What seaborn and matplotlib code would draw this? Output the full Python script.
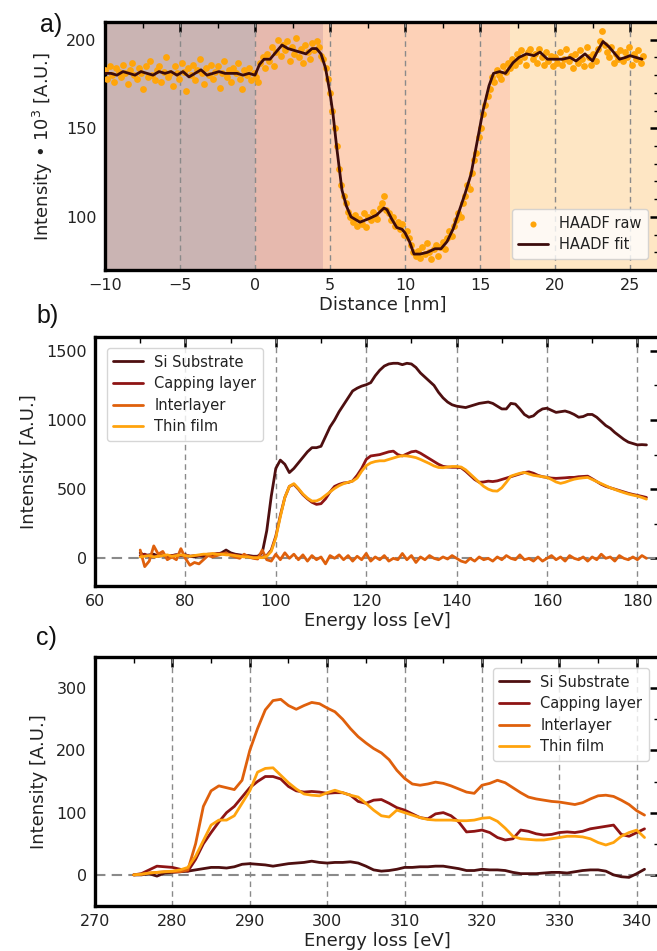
import numpy as np
import pandas as pd
import matplotlib
matplotlib.use("Agg")
import matplotlib.pyplot as plt
from matplotlib.ticker import MultipleLocator
import seaborn as sns

# ---------------- data: panel a ----------------
haadf_raw_x = np.linspace(-10, 25.85, 240)
haadf_raw = [
    183,178,185,180,176,184,182,179,186,181,
    175,183,187,180,178,184,181,172,185,179,
    188,180,177,183,185,176,182,190,179,181,
    174,185,181,178,187,182,171,184,180,186,
    177,183,189,181,175,184,180,186,178,182,
    185,173,181,188,179,183,176,184,181,187,
    178,172,183,180,184,177,181,179,176,187,
    190,184,192,188,196,185,193,200,191,197,
    194,199,188,196,192,201,190,195,187,197,
    193,189,198,194,199,196,191,189,184,178,
    170,160,150,140,127,118,112,108,103,100,
    97,101,95,99,96,102,94,100,98,103,
    101,99,105,108,112,104,102,98,100,95,
    97,93,96,90,92,88,84,80,78,81,
    77,83,79,85,80,76,82,84,78,83,
    86,82,88,92,89,95,98,102,100,108,
    112,118,116,125,132,136,145,150,158,163,
    168,172,179,176,183,180,178,185,182,187,
    184,189,186,192,188,194,190,186,193,195,
    189,192,187,195,190,186,193,188,191,185,
    190,187,193,186,189,195,188,191,184,192,
    187,194,189,185,196,190,186,192,188,195,
    199,205,197,193,190,196,187,192,189,194,
    188,193,190,196,186,192,189,194,187,191,
]
haadf_fit_x = [-10,-9.6,-9.2,-8.8,-8.4,-8,-7.6,-7.2,-6.8,-6.4,-6,-5.6,-5.2,-4.8,-4.4,-4,
               -3.6,-3.2,-2.8,-2.4,-2,-1.6,-1.2,-0.8,-0.4,0,0.3,0.6,1.0,1.4,1.8,2.2,2.6,
               3.0,3.4,3.8,4.1,4.4,4.7,5.0,5.2,5.45,5.8,6.1,6.4,7.0,7.6,8.1,8.6,8.8,9.1,
               9.45,9.8,10.0,10.3,10.6,11.0,11.5,12.0,12.4,12.8,13.2,13.6,14.0,14.4,14.8,
               15.2,15.6,15.9,16.3,16.7,17.2,17.6,18.1,18.6,19.0,19.5,20.0,20.5,21.0,21.4,
               22.0,22.5,22.8,23.2,23.6,24.0,24.3,24.7,25.0,25.4,25.8]
haadf_fit = [181,181,180,182,181,180,182,181,180,182,181,182,180,182,179,181,
             183,180,181,182,181,181,181,180,181,180,186,189,189,193,197,195,194,
             193,192,195,195,192,184,170,158,139,115,106,100,97,99,101,105,104,99,
             94,93,91,86,79,79,80,82,82,86,93,103,113,124,142,
             160,174,181,182,181,187,190,192,191,193,189,189,189,190,188,
             192,188,193,199,196,192,189,190,191,190,189]
region_edges = [-10, 0, 4.5, 17, 27]
region_colors = ["#cab4b3", "#e6b9ae", "#fdd1b7", "#fee6c4"]

# ---------------- data: panel b ----------------
energy_b = list(range(70, 183))
si_b = [40,20,25,30,15,20,15,20,25,20,
        25,15,10,20,15,20,25,30,40,60,
        40,30,25,20,20,15,15,40,200,450,
        650,710,680,620,650,690,730,770,800,800,
        810,880,950,1000,1060,1110,1160,1210,1230,1245,
        1255,1270,1320,1360,1390,1405,1410,1410,1400,1410,
        1405,1380,1340,1310,1280,1250,1200,1160,1130,1110,
        1100,1095,1090,1100,1110,1120,1125,1130,1120,1100,
        1080,1080,1120,1115,1080,1040,1020,1030,1060,1080,
        1085,1070,1055,1060,1065,1055,1040,1020,1025,1040,
        1040,1020,990,960,940,910,885,860,840,830,
        820,822,820]
capping_b = [20,30,15,10,20,25,15,20,25,20,
             25,15,20,20,25,30,30,35,35,30,
             30,25,20,15,15,10,10,10,20,60,
             160,310,440,520,535,500,460,430,405,390,
             395,430,480,520,535,545,548,560,600,650,
             715,740,745,750,760,770,775,750,740,755,
             770,775,760,740,720,700,680,665,660,658,
             658,655,630,600,570,550,552,558,555,560,
             570,580,590,600,610,620,625,615,600,590,
             585,580,578,580,582,585,585,590,592,594,
             575,555,535,520,510,500,490,480,470,462,
             455,448,440]
interlayer_b = [60,-60,-20,90,30,50,-10,10,-10,70,
                0,-50,-30,-40,-10,20,10,20,30,40,
                20,10,0,30,10,0,-5,60,-10,-20,
                30,-10,40,0,30,-10,25,-20,20,-10,
                10,-40,20,0,25,-10,20,-20,15,-10,
                35,-20,10,-10,20,-20,0,-10,35,-10,
                20,-30,10,-10,20,0,-10,10,-5,20,
                0,-20,-30,0,-20,10,-10,0,-20,10,
                -10,20,0,-10,25,-10,0,-20,10,-20,
                0,20,-10,10,-20,20,0,-10,10,-20,
                10,-10,30,0,10,-20,20,0,-10,10,
                -10,20,0]
thinfilm_b = [10,15,20,10,15,20,25,15,20,25,
              20,15,20,25,30,30,35,30,30,25,
              25,20,15,10,10,5,5,5,15,50,
              150,300,440,520,540,505,465,435,414,415,
              430,455,480,505,525,540,550,558,580,630,
              670,690,700,705,705,715,725,735,742,740,
              735,728,715,700,685,668,657,655,660,664,
              664,660,640,610,580,549,520,500,488,486,
              510,550,594,605,615,621,610,600,595,590,
              585,570,552,542,550,562,572,578,582,585,
              570,555,540,525,510,498,486,475,465,457,
              450,440,428]

# ---------------- data: panel c ----------------
energy_c = list(range(275, 342))
si_c = [0,0,2,-2,3,4,5,6,8,10,
        12,12,11,13,17,18,17,16,14,16,
        18,19,20,22,20,19,20,20,21,19,
        14,8,6,7,9,12,12,13,13,14,
        14,12,10,7,7,9,8,8,7,4,
        2,2,2,3,4,4,3,5,7,8,
        8,6,0,-3,-4,2,9]
capping_c = [0,2,8,14,13,12,9,6,25,50,
             68,85,100,110,125,140,150,158,158,154,
             142,135,133,134,133,131,132,132,128,118,
             115,120,121,115,108,104,98,92,90,98,
             100,95,85,69,70,72,68,60,56,58,
             72,70,66,64,65,68,69,68,70,74,
             76,78,80,65,62,68,74]
interlayer_c = [0,1,3,4,5,5,5,8,50,110,
                135,143,140,137,152,200,235,265,280,282,
                272,266,272,277,275,268,262,250,235,222,
                212,203,196,185,168,155,146,144,146,149,
                147,143,138,133,131,144,147,152,148,140,
                132,125,122,120,118,117,115,113,116,122,
                127,128,126,120,113,103,96]
thinfilm_c = [0,1,3,4,5,6,8,12,30,55,
              80,88,88,95,115,135,165,171,172,160,
              148,138,130,128,127,132,136,132,128,125,
              115,104,95,93,104,100,96,92,89,88,
              88,88,87,87,88,91,92,86,75,62,
              58,57,56,56,58,60,62,62,61,58,
              52,48,52,62,68,72,60]

series_names = ["Si Substrate", "Capping layer", "Interlayer", "Thin film"]
series_colors = ["#4e0f10", "#8e1414", "#df600c", "#ffa30d"]

# ---------------- style ----------------
sns.set_style("white")
plt.rcParams["font.family"] = ["DejaVu Sans"]
plt.rcParams["axes.linewidth"] = 2.4
TXT = "#222222"

W, H = 657, 951
fig = plt.figure(figsize=(W / 100, H / 100), dpi=100)

def axes_px(left, top, right, bottom):
    return fig.add_axes([left / W, 1 - bottom / H, (right - left) / W, (bottom - top) / H])

def style_axes(ax, xmaj, xmin, ymaj, ymin):
    ax.xaxis.set_major_locator(MultipleLocator(xmaj))
    ax.xaxis.set_minor_locator(MultipleLocator(xmin))
    ax.yaxis.set_major_locator(MultipleLocator(ymaj))
    ax.yaxis.set_minor_locator(MultipleLocator(ymin))
    ax.tick_params(which="both", direction="in", top=True, right=True, colors="black",
                   labelcolor=TXT)
    ax.tick_params(which="major", length=7, width=1.8, labelsize=11.5, pad=6)
    ax.tick_params(which="minor", length=4, width=1.0)
    for sp in ax.spines.values():
        sp.set_visible(True)
        sp.set_color("black")
        sp.set_linewidth(2.4)
    ax.grid(False)
    for xv in ax.get_xticks():
        lo, hi = ax.get_xlim()
        if lo <= xv <= hi:
            ax.axvline(xv, color="#8a8a8a", lw=1.0, ls=(0, (4, 3)), zorder=1)

LEG = dict(fontsize=10.5, frameon=True, framealpha=0.8, edgecolor="#cccccc",
           borderpad=0.45, handlelength=2.0, labelspacing=0.45, labelcolor=TXT)

# ---------- panel a ----------
axa = axes_px(105, 22, 660, 270)
for i in range(4):
    axa.axvspan(region_edges[i], region_edges[i + 1], color=region_colors[i], lw=0, zorder=0)
sns.scatterplot(x=haadf_raw_x, y=haadf_raw, ax=axa, color="#ffa50a", s=24, linewidth=0,
                label="HAADF raw", zorder=3)
sns.lineplot(x=haadf_fit_x, y=haadf_fit, ax=axa, color="#3b0b0b", lw=2.0,
             label="HAADF fit", zorder=4, sort=False)
axa.set_xlim(-10, 27)
axa.set_ylim(70, 210)
style_axes(axa, 5, 2.5, 50, 10)
axa.set_xlabel("Distance [nm]", fontsize=13, labelpad=2, color=TXT)
axa.set_ylabel("Intensity • 10$^3$ [A.U.]", fontsize=13, labelpad=8, color=TXT)
axa.legend(loc="lower right", bbox_to_anchor=(0.992, 0.015), markerscale=0.9, **LEG)

# ---------- panel b ----------
axb = axes_px(95, 337, 660, 586)
axb.axhline(0, color="#8a8a8a", lw=1.5, ls=(0, (5, 3)), zorder=1)
for name, col, vals in zip(series_names, series_colors,
                           [si_b, capping_b, interlayer_b, thinfilm_b]):
    sns.lineplot(x=energy_b, y=vals, ax=axb, color=col, lw=2.0, label=name, zorder=3)
axb.set_xlim(60, 185)
axb.set_ylim(-200, 1600)
style_axes(axb, 20, 10, 500, 250)
axb.set_xlabel("Energy loss [eV]", fontsize=13, labelpad=2, color=TXT)
axb.set_ylabel("Intensity [A.U.]", fontsize=13, labelpad=6, color=TXT)
axb.legend(loc="upper left", bbox_to_anchor=(0.008, 0.985), **LEG)

# ---------- panel c ----------
axc = axes_px(95, 657, 660, 906)
axc.axhline(0, color="#8a8a8a", lw=1.5, ls=(0, (5, 3)), zorder=1)
for name, col, vals in zip(series_names, series_colors,
                           [si_c, capping_c, interlayer_c, thinfilm_c]):
    sns.lineplot(x=energy_c, y=vals, ax=axc, color=col, lw=2.0, label=name, zorder=3)
axc.set_xlim(270, 343)
axc.set_ylim(-50, 350)
style_axes(axc, 10, 5, 100, 50)
axc.set_xlabel("Energy loss [eV]", fontsize=13, labelpad=2, color=TXT)
axc.set_ylabel("Intensity [A.U.]", fontsize=13, labelpad=6, color=TXT)
axc.legend(loc="upper right", bbox_to_anchor=(0.993, 0.985), **LEG)

# panel letters
for lbl, (px, py) in zip(["a)", "b)", "c)"], [(40, 25), (36, 316), (36, 638)]):
    fig.text(px / W, 1 - py / H, lbl, fontsize=18, family=["Liberation Sans"],
             ha="left", va="center", color="#111111")

fig.savefig("out.png", dpi=100)
